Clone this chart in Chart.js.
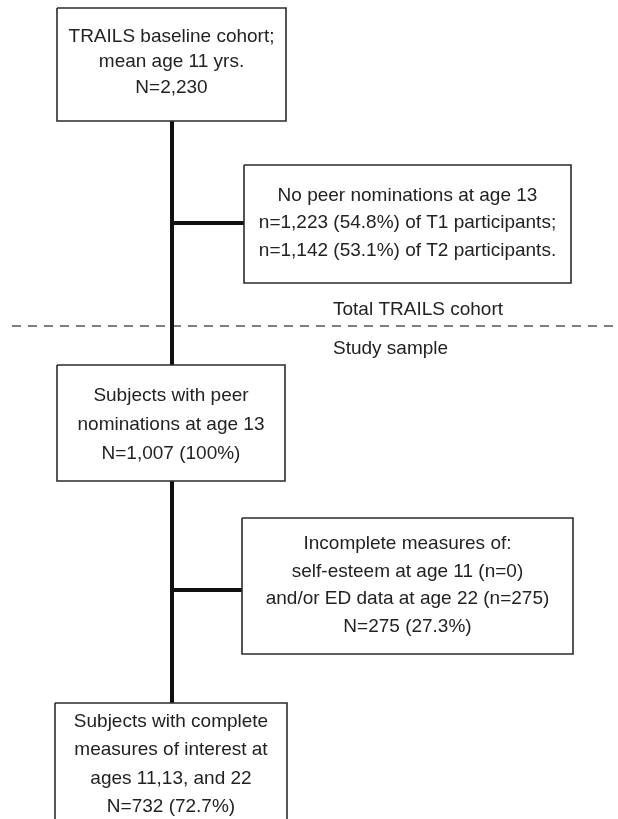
<!DOCTYPE html>
<html>
<head>
<meta charset="utf-8">
<script src="https://cdn.jsdelivr.net/npm/chart.js@4.4.1/dist/chart.umd.min.js"></script>
<style>
  html, body { margin: 0; padding: 0; background: #fff; }
  #wrap { width: 618px; height: 819px; position: relative; }
</style>
</head>
<body>
<div id="wrap"><canvas id="flow"></canvas></div>
<script>
// flow data
var mainLabels = [
    ["TRAILS baseline cohort;", "mean age 11 yrs."],
    ["Subjects with peer", "nominations at age 13"],
    ["Subjects with complete", "measures of interest at", "ages 11,13, and 22"]
];
var mainN = [2230, 1007, 732];
var mainPct = [null, 100, 72.7];

var noPeerTitle = "No peer nominations at age 13";
var noPeerWave = ["T1", "T2"];
var noPeerN = [1223, 1142];
var noPeerPct = [54.8, 53.1];

var incompleteLabels = ["Incomplete measures of:", "self-esteem at age 11 (n=0)", "and/or ED data at age 22 (n=275)"];
var incompleteN = 275;
var incompletePct = 27.3;

var sectionLabels = ["Total TRAILS cohort", "Study sample"];

function fmt(n) { return n.toLocaleString("en-US"); }
function nLine(n, pct) { return "N=" + fmt(n) + (pct === null ? "" : " (" + pct.toFixed(pct % 1 ? 1 : 0) + "%)"); }

// text of each box
var boxTexts = [
    mainLabels[0].concat([nLine(mainN[0], mainPct[0])]),
    [noPeerTitle].concat(noPeerWave.map(function(w, i) {
        return "n=" + fmt(noPeerN[i]) + " (" + noPeerPct[i].toFixed(1) + "%) of " + w + " participants" + (i === 0 ? ";" : ".");
    })),
    mainLabels[1].concat([nLine(mainN[1], mainPct[1])]),
    incompleteLabels.concat([nLine(incompleteN, incompletePct)]),
    mainLabels[2].concat([nLine(mainN[2], mainPct[2])])
];

// layout (canvas units)
var boxes = [
    { x1: 57, x2: 286, y1: 8, y2: 121, top: 35, gap: 25.5 },
    { x1: 244, x2: 571, y1: 165, y2: 283, top: 194, gap: 27.5 },
    { x1: 57, x2: 285, y1: 365, y2: 481, top: 394, gap: 29 },
    { x1: 242, x2: 573, y1: 518, y2: 654, top: 542, gap: 27.7 },
    { x1: 55, x2: 287, y1: 703, y2: 822, top: 720, gap: 28.5 }
];
var trunkX = 172;
var stubY = [223, 590];
var dividerY = 326;
var FONT = "19px 'Liberation Sans', Arial, sans-serif";

function rect(b) {
    return [{x: b.x1, y: b.y1}, {x: b.x2, y: b.y1}, {x: b.x2, y: b.y2}, {x: b.x1, y: b.y2}, {x: b.x1, y: b.y1}];
}

var datasets = [];
boxes.forEach(function(b) {
    datasets.push({ data: rect(b), borderColor: "#2b2b2b", borderWidth: 1.6, borderJoinStyle: "miter" });
});
// trunk: box1 -> box3, box3 -> box5
datasets.push({ data: [{x: trunkX, y: boxes[0].y2}, {x: trunkX, y: boxes[2].y1}], borderColor: "#111", borderWidth: 4 });
datasets.push({ data: [{x: trunkX, y: boxes[2].y2}, {x: trunkX, y: boxes[4].y1}], borderColor: "#111", borderWidth: 4 });
datasets.push({ data: [{x: trunkX, y: stubY[0]}, {x: boxes[1].x1, y: stubY[0]}], borderColor: "#111", borderWidth: 4 });
datasets.push({ data: [{x: trunkX, y: stubY[1]}, {x: boxes[3].x1, y: stubY[1]}], borderColor: "#111", borderWidth: 4 });
datasets.push({ data: [{x: 12, y: dividerY}, {x: 618, y: dividerY}], borderColor: "#555", borderWidth: 1.5, borderDash: [9, 7] });

// writes the box texts
var textPlugin = {
    id: "flowText",
    afterDatasetsDraw: function(chart) {
        var ctx = chart.ctx;
        var xs = chart.scales.x, ys = chart.scales.y;
        ctx.save();
        ctx.font = FONT;
        ctx.fillStyle = "#222";
        ctx.textBaseline = "alphabetic";
        ctx.textAlign = "center";
        boxes.forEach(function(b, i) {
            var cx = xs.getPixelForValue((b.x1 + b.x2) / 2);
            boxTexts[i].forEach(function(line, j) {
                ctx.fillText(line, cx, ys.getPixelForValue(b.top + j * b.gap) + 6.8);
            });
        });
        ctx.textAlign = "left";
        ctx.fillText(sectionLabels[0], xs.getPixelForValue(333), ys.getPixelForValue(308) + 6.8);
        ctx.fillText(sectionLabels[1], xs.getPixelForValue(333), ys.getPixelForValue(347) + 6.8);
        ctx.restore();
    }
};

window.addEventListener("load", function() {
    var canvas = document.getElementById("flow").getContext("2d");
    new Chart(canvas, {
        type: "scatter",
        data: { datasets: datasets },
        options: {
            responsive: true,
            maintainAspectRatio: false,
            animation: false,
            layout: { padding: 0 },
            showLine: true,
            elements: { point: { radius: 0, hoverRadius: 0 }, line: { tension: 0, fill: false } },
            scales: {
                x: { type: "linear", min: 0, max: 618, display: false },
                y: { type: "linear", min: 0, max: 819, reverse: true, display: false }
            },
            plugins: { legend: { display: false }, tooltip: { enabled: false } }
        },
        plugins: [textPlugin]
    });
});
</script>
</body>
</html>
